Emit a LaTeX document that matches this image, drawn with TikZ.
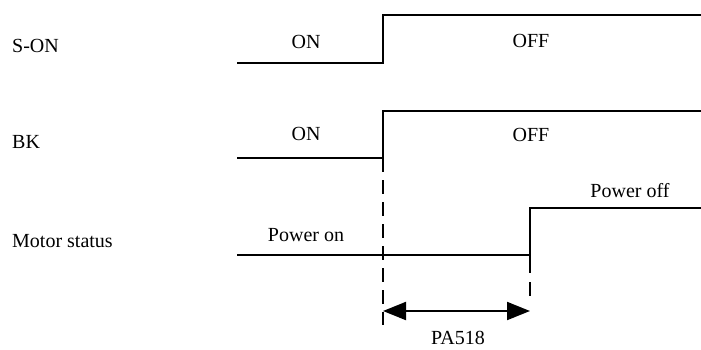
\documentclass[tikz,border=0pt]{standalone}
\usepackage{fontspec}
\setmainfont{Liberation Serif}
\usetikzlibrary{arrows.meta}
\begin{document}
\begin{tikzpicture}[x=1pt,y=-1pt,
  wave/.style={line width=1.8pt,line join=miter},
  lbl/.style={font=\fontsize{20}{24}\selectfont,inner sep=0pt,anchor=base},
  side/.style={font=\fontsize{20}{24}\selectfont,inner sep=0pt,anchor=base west},
  guide/.style={line width=1.5pt,dash pattern=on 14pt off 8pt},
  dim/.style={line width=2pt,{Triangle[length=23pt,width=18pt]}-{Triangle[length=23pt,width=18pt]}}]
\useasboundingbox (0,0) rectangle (701,349);
% side labels
\node[side] (lson) at (12,52) {S-ON};
\node[side] (lbk) at (12,148) {BK};
\node[side] (lms) at (12,247) {Motor status};
% S-ON waveform
\coordinate (s0) at (237,63);
\coordinate (s1) at (383,63);
\coordinate (s2) at (383,15);
\coordinate (s3) at (701,15);
\draw[wave] (s0) -- (s1) -- (s2) -- (s3);
\node[lbl] (son) at (306,48) {ON};
\node[lbl] (soff) at (531,47) {OFF};
% BK waveform
\coordinate (b0) at (237,158);
\coordinate (b1) at (383,158);
\coordinate (b2) at (383,111);
\coordinate (b3) at (701,111);
\draw[wave] (b0) -- (b1) -- (b2) -- (b3);
\node[lbl] (bon) at (306,140) {ON};
\node[lbl] (boff) at (531,141) {OFF};
% Motor waveform
\coordinate (m0) at (237,255);
\coordinate (m1) at (530,255);
\coordinate (m2) at (530,208);
\coordinate (m3) at (701,208);
\draw[line width=1.5pt] (m0) -- (m1);
\draw[wave] (m1) -- (m2) -- (m3);
\draw[wave] (m1) -- (530,273);
\node[lbl] (mon) at (306,241) {Power on};
\node[lbl] (moff) at (630,197) {Power off};
% guides
\coordinate (g1t) at (383,158);
\coordinate (g1b) at (383,325);
\coordinate (g2t) at (530,255);
\coordinate (g2b) at (530,325);
\draw[guide] (g1t) -- (g1b);
\draw[guide,dash pattern=on 0pt off 27pt on 14pt off 8pt] (g2t) -- (g2b);
% dimension
\coordinate (d1) at (383,311);
\coordinate (d2) at (530,311);
\draw[dim] (d1) -- (d2);
\node[lbl] (pa) at (458,344) {PA518};
\end{tikzpicture}
\end{document}
